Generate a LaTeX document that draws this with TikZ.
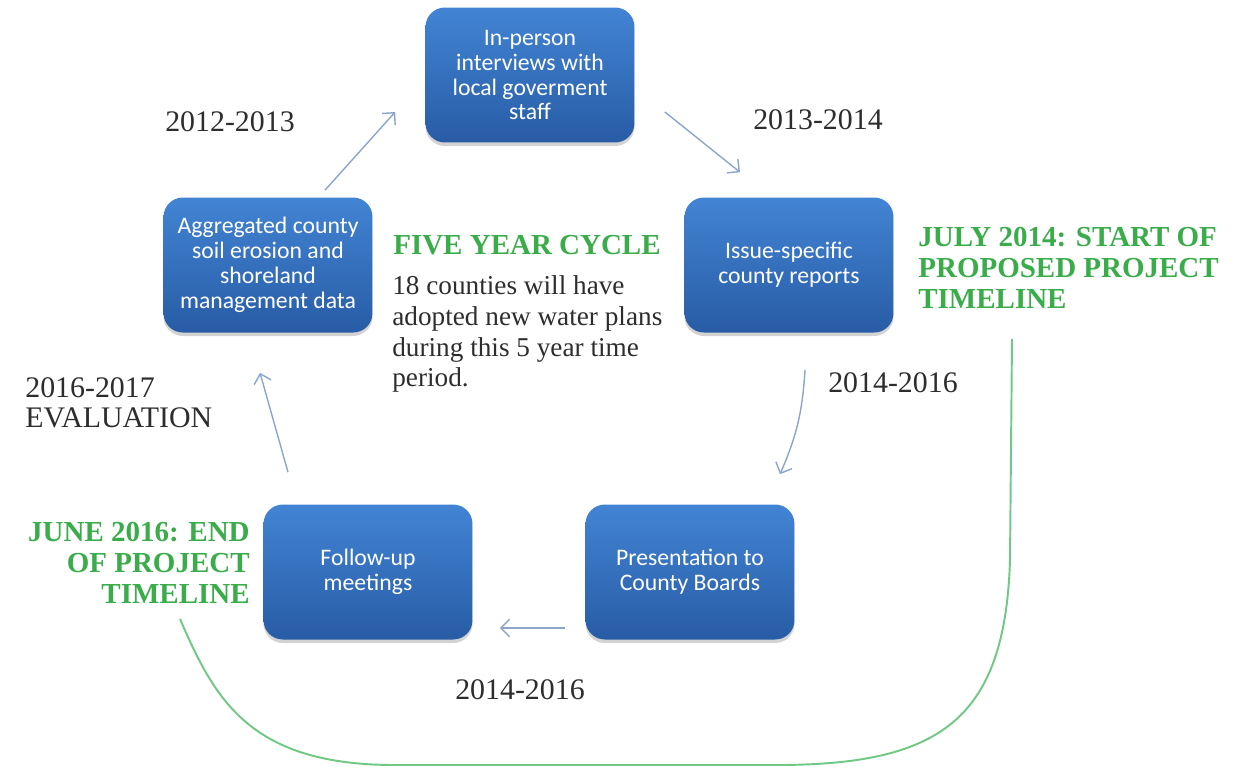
\documentclass[tikz,border=0pt]{standalone}
\usepackage{fontspec}
\setmainfont{Liberation Serif}
\newfontfamily\boxfont{Carlito}
\definecolor{BoxTop}{RGB}{66,132,212}
\definecolor{BoxBottom}{RGB}{40,92,165}
\definecolor{NoteColor}{RGB}{58,172,74}
\definecolor{TimelineColor}{RGB}{112,200,132}
\definecolor{ArrowColor}{RGB}{140,165,205}
\definecolor{YearColor}{RGB}{45,45,45}
\usetikzlibrary{arrows.meta, shadows, calc}
\tikzstyle{stage} = [rectangle, rounded corners=11pt, minimum width=4.18cm, minimum height=2.7cm, top color=BoxTop, bottom color=BoxBottom, text=white, align=center, font=\boxfont\fontsize{13.5}{14.2}\selectfont, drop shadow={shadow xshift=0pt, shadow yshift=-2pt, opacity=0.35}]
\tikzstyle{arrow} = [line width=0.8pt, ArrowColor, ->, >={Straight Barb[length=5pt,width=10pt]}]
\tikzstyle{year} = [inner sep=0pt, text=YearColor, font=\fontsize{17}{17}\selectfont]
\tikzstyle{note} = [inner sep=0pt, text=NoteColor, font=\bfseries\fontsize{16.5}{17.6}\selectfont]
\tikzstyle{timeline} = [line width=1.1pt, TimelineColor]

\begin{document}
\begin{tikzpicture}[x=0.02cm, y=-0.02cm]
    \useasboundingbox (0,0) rectangle (1243,769);

    % Stages of the cycle
    \node[stage] (interview) at (530,75) {In-person\\interviews with\\local goverment\\staff};
    \node[stage] (reports) at (789,265) {Issue-specific\\county reports};
    \node[stage] (boards) at (690,572) {Presentation to\\County Boards};
    \node[stage] (followup) at (368,572) {Follow-up\\meetings};
    \node[stage] (data) at (268,265) {Aggregated county\\soil erosion and\\shoreland\\management data};

    % Arrows
    \draw[arrow] ($(data.north)+(57,-7)$) -- ($(interview.west)+(-30,37)$);
    \draw[arrow] ($(interview.east)+(30,37)$) -- ($(reports.north)+(-49,-25)$);
    \draw[arrow] ($(reports.south)+(16,37)$) to[bend left=10] ($(boards.north)+(90,-30)$);
    \draw[arrow] ($(boards.west)+(-20,56)$) -- ($(followup.east)+(27,56)$);
    \draw[arrow] ($(followup.north)+(-80,-32)$) -- ($(data.south)+(-8,40)$);

    % Year labels
    \node[year] (y1213) at (230,122) {2012-2013};
    \node[year] (y1314) at (818,120) {2013-2014};
    \node[year] (y1416a) at (893,383) {2014-2016};
    \node[year] (y1416b) at (520,690) {2014-2016};
    \node[year, align=left, anchor=west] (evaluation) at (25,403) {2016-2017\\EVALUATION};

    % Notes
    \node[note] (cycle) at (527,245) {FIVE YEAR CYCLE};
    \node[inner sep=0pt, align=left, anchor=west, text=YearColor, font=\fontsize{15.5}{17.6}\selectfont] (counties) at (392,334) {18 counties will have\\adopted new water plans\\during this 5 year time\\period.};
    \node[note, align=left, anchor=west] (start) at (918,268) {JULY 2014: START OF\\PROPOSED PROJECT\\TIMELINE};
    \node[note, align=right, anchor=east] (finish) at (250,563) {JUNE 2016: END\\OF PROJECT\\TIMELINE};

    % Project timeline
    \draw[timeline] ($(start.south west)+(94,30)$) -- (1010,560)
        .. controls (1005,720) and (940,765) .. (776,765) -- (395,765)
        .. controls (250,765) and (215,700) .. ($(finish.south east)+(-70,15)$);
\end{tikzpicture}
\end{document}
